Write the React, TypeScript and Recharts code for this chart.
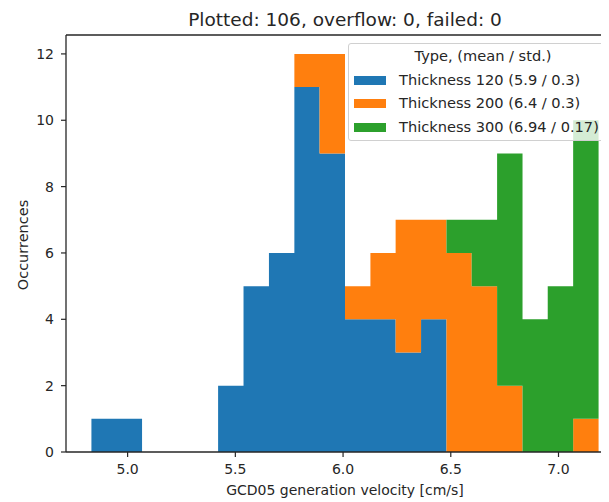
import React from 'react';
import { ComposedChart, Area, XAxis, YAxis, ReferenceLine, Legend } from 'recharts';

// Histogram bin edges (cm/s)
const binEdges = [4.832, 4.950, 5.067, 5.185, 5.303, 5.420, 5.538, 5.656, 5.774, 5.891, 6.009, 6.127, 6.244, 6.362, 6.480, 6.597, 6.715, 6.833, 6.950, 7.068, 7.186];
// Counts per bin for each series
const thick120 = [1, 1, 0, 0, 0, 2, 5, 6, 11, 9, 4, 4, 3, 4, 0, 0, 0, 0, 0, 0];
const thick200 = [0, 0, 0, 0, 0, 0, 0, 0, 1, 3, 1, 2, 4, 3, 6, 5, 2, 0, 0, 1];
const thick300 = [0, 0, 0, 0, 0, 0, 0, 0, 0, 0, 0, 0, 0, 0, 1, 2, 7, 4, 5, 9];

const seriesNames = ['Thickness 120 (5.9 / 0.3)', 'Thickness 200 (6.4 / 0.3)', 'Thickness 300 (6.94 / 0.17)'];
const seriesColors = ['#1f77b4', '#ff7f0e', '#2ca02c'];
const xTicks = [5.0, 5.5, 6.0, 6.5, 7.0];
const yTicks = [0, 2, 4, 6, 8, 10, 12];
const xDomain = [4.714, 7.304];
const yDomain = [0, 12.57];
const title = 'Plotted: 106, overflow: 0, failed: 0';
const xLabel = 'GCD05 generation velocity [cm/s]';
const yLabel = 'Occurrences';
const legendTitle = 'Type, (mean / std.)';

const data = binEdges.map((x, i) => {
  const k = Math.min(i, thick120.length - 1);
  return { x, a: thick120[k], b: thick200[k], c: thick300[k] };
});

const FONT = '"DejaVu Sans", sans-serif';
const AX = '#262626';

const LegendBox = (props: any) => {
  const payload = props.payload || [];
  return (
    <div
      style={{
        width: 268,
        height: 98,
        boxSizing: 'border-box',
        border: '1px solid #d0d0d0',
        borderRadius: 3,
        background: 'rgba(255,255,255,0.8)',
        fontFamily: FONT,
        fontSize: 14.6,
        color: '#262626',
        position: 'relative',
      }}
    >
      <div style={{ position: 'absolute', left: 0, width: 268, top: 2, lineHeight: '20px', textAlign: 'center' }}>
        {legendTitle}
      </div>
      {payload.map((p: any, i: number) => (
        <div key={i} style={{ position: 'absolute', left: 0, top: 26 + i * 23.4, height: 20, lineHeight: '20px', whiteSpace: 'nowrap' }}>
          <span style={{ position: 'absolute', left: 5, top: 6, width: 32, height: 9, background: p.color }} />
          <span style={{ position: 'absolute', left: 50, top: 0 }}>{p.value}</span>
        </div>
      ))}
    </div>
  );
};

export default function App() {
  return (
    <div style={{ width: 601, height: 494, overflow: 'hidden', position: 'relative' }}>
      <ComposedChart
        width={620}
        height={494}
        data={data}
        margin={{ top: 27, right: 4, bottom: 0, left: 0 }}
        style={{ fontFamily: FONT }}
      >
        <XAxis
          dataKey="x"
          type="number"
          domain={xDomain}
          allowDataOverflow
          ticks={xTicks}
          tickFormatter={(v: number) => v.toFixed(1)}
          height={50}
          tickSize={5}
          tickMargin={7}
          stroke={AX}
          axisLine={{ stroke: AX, strokeWidth: 1.3 }}
          tickLine={{ stroke: AX, strokeWidth: 1.2 }}
          tick={{ fill: '#262626', fontSize: 14, fontFamily: FONT }}
        />
        <YAxis
          type="number"
          domain={yDomain}
          allowDataOverflow
          ticks={yTicks}
          width={58}
          tickSize={5}
          tickMargin={7}
          stroke={AX}
          axisLine={{ stroke: AX, strokeWidth: 1.3 }}
          tickLine={{ stroke: AX, strokeWidth: 1.2 }}
          tick={{ fill: '#262626', fontSize: 14, fontFamily: FONT }}
        />
        <Area type="stepAfter" dataKey="a" name={seriesNames[0]} stackId="h" fill={seriesColors[0]} stroke="none" fillOpacity={1} isAnimationActive={false} dot={false} activeDot={false} />
        <Area type="stepAfter" dataKey="b" name={seriesNames[1]} stackId="h" fill={seriesColors[1]} stroke="none" fillOpacity={1} isAnimationActive={false} dot={false} activeDot={false} />
        <Area type="stepAfter" dataKey="c" name={seriesNames[2]} stackId="h" fill={seriesColors[2]} stroke="none" fillOpacity={1} isAnimationActive={false} dot={false} activeDot={false} />
        <ReferenceLine y={yDomain[1]} stroke={AX} strokeWidth={1.3} ifOverflow="visible" />
        <Legend
          layout="vertical"
          align="center"
          verticalAlign="middle"
          content={<LegendBox />}
          wrapperStyle={{ position: 'absolute', left: 340, top: 35, width: 268, height: 98 }}
        />
        <text x={337} y={11} textAnchor="middle" dominantBaseline="central" fontSize={18.5} fontFamily={FONT} fill="#262626">
          {title}
        </text>
        <text x={337} y={482} textAnchor="middle" dominantBaseline="central" fontSize={14} fontFamily={FONT} fill="#262626">
          {xLabel}
        </text>
        <text x={15} y={237} transform="rotate(-90 15 237)" textAnchor="middle" dominantBaseline="central" fontSize={14.5} fontFamily={FONT} fill="#262626">
          {yLabel}
        </text>
      </ComposedChart>
    </div>
  );
}
